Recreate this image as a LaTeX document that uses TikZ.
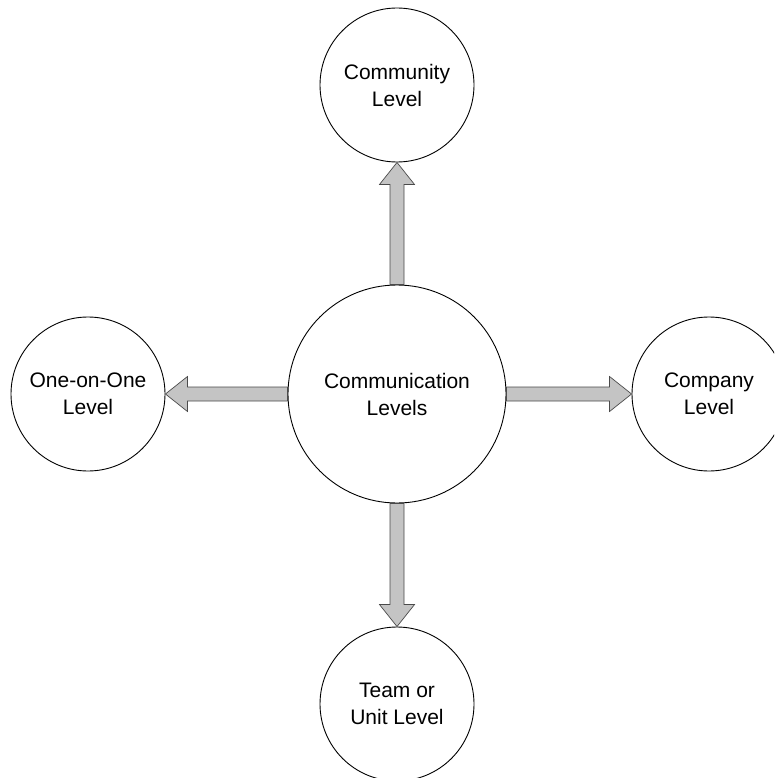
\documentclass[tikz,border=0pt]{standalone}
\usepackage{fontspec}
\setmainfont{Liberation Sans}
\usepackage{tikz}
\usetikzlibrary{calc,positioning}
\definecolor{lvlGray}{HTML}{C4C4C4}
\definecolor{lvlLine}{HTML}{4A4A4A}

% block arrow from one node anchor to another
\newcommand{\blockarrow}[2]{%
  \draw[blk] ($(#1)!7pt!90:(#2)$) -- ($($(#2)!22pt!(#1)$)!7pt!-90:(#1)$)
    -- ($($(#2)!22pt!(#1)$)!17.5pt!-90:(#1)$) -- (#2)
    -- ($($(#2)!22pt!(#1)$)!17.5pt!90:(#1)$)
    -- ($($(#2)!22pt!(#1)$)!7pt!90:(#1)$) -- ($(#1)!7pt!-90:(#2)$) -- cycle;}

\begin{document}
\begin{tikzpicture}[x=1pt,y=-1pt,
  lvl/.style={draw=black,circle,line width=0.9pt,minimum size=154pt,inner sep=0pt,
              align=center,font=\fontsize{21}{27}\selectfont},
  hub/.style={lvl,minimum size=218pt},
  blk/.style={draw=lvlLine,fill=lvlGray,line width=0.7pt,line join=miter}]
  \clip (0,0) rectangle (774,778);
  \node[hub] (c)     at (397,394) {Communication\\Levels};
  \node[lvl] (comm)  at (397,85)  {Community\\Level};
  \node[lvl] (one)   at (88,394)  {One-on-One\\Level};
  \node[lvl] (comp)  at (709,394) {Company\\Level};
  \node[lvl] (team)  at (397,704) {Team or\\Unit Level};
  \blockarrow{c.north}{comm.south}
  \blockarrow{c.west}{one.east}
  \blockarrow{c.east}{comp.west}
  \blockarrow{c.south}{team.north}
\end{tikzpicture}
\end{document}
